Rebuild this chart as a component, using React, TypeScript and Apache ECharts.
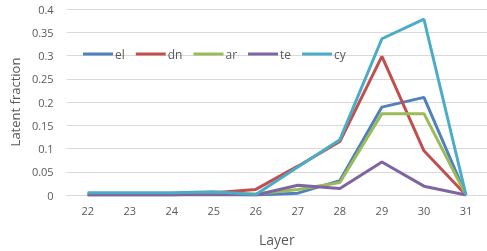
import React, { useEffect, useRef } from "react";
import * as echarts from "echarts";

const layers = ["22", "23", "24", "25", "26", "27", "28", "29", "30", "31"];
const el = [0, 0, 0, 0.003, 0, 0.004, 0.031, 0.189, 0.21, 0];
const dn = [0.002, 0.002, 0.002, 0.005, 0.012, 0.062, 0.115, 0.298, 0.095, 0];
const ar = [0.002, 0.002, 0.002, 0.003, 0.002, 0.012, 0.027, 0.175, 0.175, 0];
const te = [0, 0, 0, 0, 0, 0.021, 0.014, 0.071, 0.019, 0];
const cy = [0.005, 0.005, 0.005, 0.007, 0.001, 0.06, 0.119, 0.336, 0.378, 0];

const seriesNames = ["el", "dn", "ar", "te", "cy"];
const seriesData = [el, dn, ar, te, cy];
const colors = ["#4F81BD", "#C0504D", "#9BBB59", "#8064A2", "#4BACC6"];

export default function App() {
  const ref = useRef<HTMLDivElement>(null);
  useEffect(() => {
    const chart = echarts.init(ref.current!, null, { renderer: "svg" });
    const font = "'Open Sans', 'Liberation Sans', sans-serif";
    chart.setOption({
      animation: false,
      color: colors,
      textStyle: { fontFamily: font },
      legend: {
        left: 78,
        top: 43,
        icon: "rect",
        itemWidth: 30,
        itemHeight: 3,
        itemGap: 11,
        textStyle: { color: "#595959", fontSize: 12, padding: [0, 0, 0, -3] },
        data: seriesNames,
      },
      grid: { left: 63, right: 0, top: 9, bottom: 52, containLabel: false },
      xAxis: {
        type: "category",
        data: layers,
        boundaryGap: true,
        name: "Layer",
        nameLocation: "middle",
        nameGap: 37,
        nameTextStyle: { color: "#595959", fontSize: 14 },
        axisLine: { show: true, lineStyle: { color: "#D9D9D9", width: 1 } },
        axisTick: { show: false },
        axisLabel: { color: "#595959", fontSize: 11, margin: 10 },
      },
      yAxis: {
        type: "value",
        min: 0,
        max: 0.4,
        interval: 0.05,
        name: "Latent fraction",
        nameLocation: "middle",
        nameGap: 42,
        nameTextStyle: { color: "#595959", fontSize: 13 },
        axisLine: { show: false },
        axisTick: { show: false },
        splitLine: { lineStyle: { color: "#D9D9D9", width: 1 } },
        axisLabel: {
          color: "#595959",
          fontSize: 11,
          margin: 13,
          formatter: (v: number) => String(parseFloat(v.toFixed(2))),
        },
      },
      series: seriesNames.map((n, i) => ({
        name: n,
        type: "line",
        data: seriesData[i],
        symbol: "none",
        lineStyle: { width: 3, color: colors[i] },
        itemStyle: { color: colors[i] },
      })),
    });
    return () => chart.dispose();
  }, []);
  return (
    <div
      ref={ref}
      style={{ position: "fixed", left: 0, top: 0, width: 487, height: 251 }}
    />
  );
}
